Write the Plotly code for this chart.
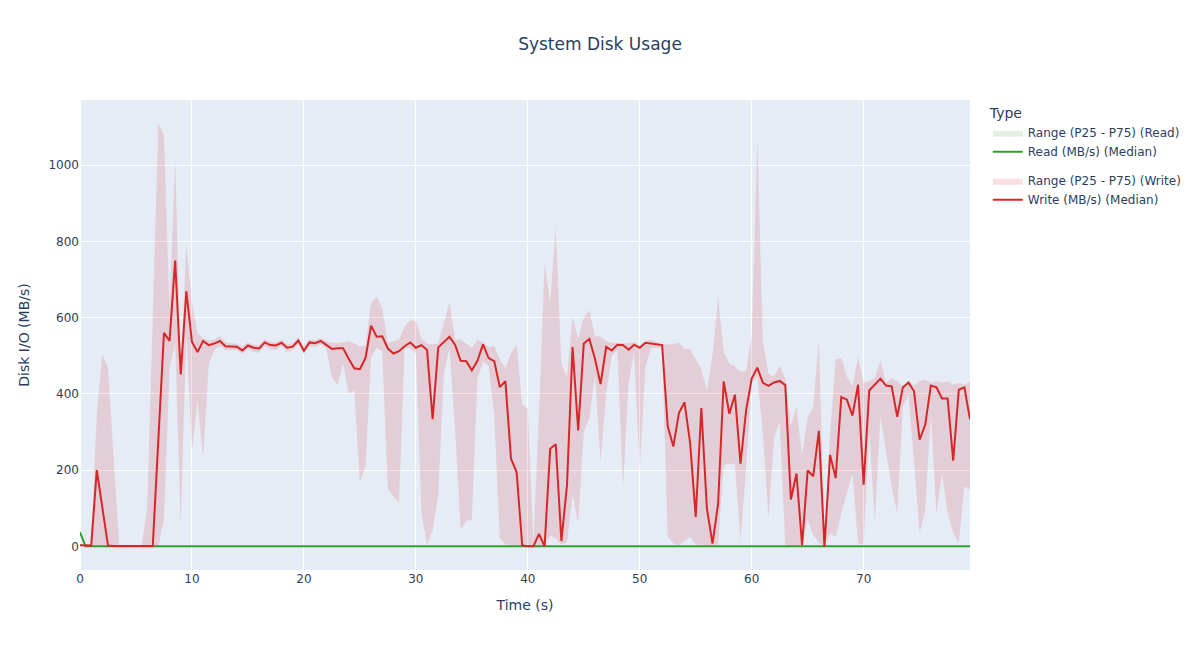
import plotly.graph_objects as go

time_s = [i * 0.5 for i in range(160)]

write_median = [
    3, 2, 2, 200, 100, 2, 1, 1, 1, 1,
    0, 0, 1, 1, 280, 560, 539, 750, 451, 669,
    536, 510, 539, 528, 532, 539, 525, 524, 524, 514,
    527, 521, 519, 535, 528, 527, 534, 521, 524, 540,
    513, 535, 533, 539, 529, 518, 520, 520, 492, 467,
    465, 494, 579, 550, 551, 519, 506, 512, 525, 535,
    521, 528, 515, 334, 522, 536, 550, 529, 487, 486,
    462, 487, 530, 494, 486, 418, 433, 230, 195, 3,
    0, 0, 33, 0, 256, 268, 14, 160, 523, 304,
    532, 544, 492, 426, 523, 514, 529, 528, 516, 529,
    521, 534, 532, 530, 528, 315, 262, 350, 378, 271,
    77, 363, 99, 7, 112, 433, 348, 398, 217, 357,
    440, 469, 429, 421, 430, 434, 423, 123, 191, 3,
    199, 184, 303, 0, 240, 179, 392, 385, 343, 424,
    162, 409, 424, 440, 422, 420, 340, 417, 430, 407,
    280, 319, 422, 417, 388, 388, 225, 411, 417, 333,
]

write_p25 = [
    0, 0, 0, 0, 0, 0, 0, 0, 0, 0,
    0, 0, 0, 0, 0, 70, 467, 532, 55, 560,
    248, 383, 230, 478, 516, 525, 515, 515, 515, 505,
    518, 510, 508, 526, 518, 515, 525, 510, 515, 530,
    505, 525, 524, 530, 519, 444, 423, 479, 401, 409,
    169, 208, 494, 521, 512, 151, 131, 115, 520, 520,
    505, 90, 3, 42, 134, 453, 520, 310, 44, 68,
    68, 440, 484, 474, 345, 22, 5, 3, 3, 2,
    0, 0, 0, 0, 30, 20, 5, 10, 138, 60,
    300, 335, 450, 221, 400, 500, 515, 151, 427, 510,
    200, 471, 520, 522, 520, 25, 8, 3, 15, 25,
    5, 5, 0, 0, 5, 213, 217, 217, 16, 208,
    431, 444, 296, 73, 287, 326, 0, 0, 0, 0,
    70, 30, 10, 0, 35, 24, 87, 140, 192, 9,
    4, 300, 61, 341, 245, 157, 87, 367, 398, 220,
    35, 96, 350, 83, 192, 87, 35, 9, 157, 149,
]

write_p75 = [
    5, 5, 5, 350, 505, 468, 230, 3, 2, 2,
    2, 3, 100, 600, 1110, 1080, 620, 1015, 480, 790,
    640, 560, 545, 540, 542, 551, 535, 533, 532, 524,
    535, 530, 527, 544, 536, 535, 542, 530, 533, 547,
    525, 543, 541, 546, 538, 535, 532, 536, 538, 532,
    525, 525, 639, 654, 625, 534, 538, 542, 577, 593,
    592, 545, 532, 530, 532, 585, 640, 542, 542, 532,
    521, 541, 536, 522, 526, 490, 468, 506, 530, 373,
    361, 10, 350, 742, 640, 838, 479, 444, 602, 545,
    600, 620, 550, 551, 538, 534, 532, 532, 534, 535,
    527, 538, 542, 536, 531, 529, 531, 535, 518, 518,
    490, 464, 410, 500, 654, 510, 479, 472, 458, 460,
    549, 1070, 536, 453, 444, 475, 440, 318, 366, 239,
    339, 366, 541, 24, 300, 490, 494, 446, 420, 497,
    429, 433, 442, 486, 429, 442, 433, 420, 433, 422,
    433, 437, 429, 433, 429, 433, 424, 429, 424, 433,
]

read_median = [
    37, 0, 0, 0, 0, 0, 0, 0, 0, 0,
    0, 0, 0, 0, 0, 0, 0, 0, 0, 0,
    0, 0, 0, 0, 0, 0, 0, 0, 0, 0,
    0, 0, 0, 0, 0, 0, 0, 0, 0, 0,
    0, 0, 0, 0, 0, 0, 0, 0, 0, 0,
    0, 0, 0, 0, 0, 0, 0, 0, 0, 0,
    0, 0, 0, 0, 0, 0, 0, 0, 0, 0,
    0, 0, 0, 0, 0, 0, 0, 0, 0, 0,
    0, 0, 0, 0, 0, 0, 0, 0, 0, 0,
    0, 0, 0, 0, 0, 0, 0, 0, 0, 0,
    0, 0, 0, 0, 0, 0, 0, 0, 0, 0,
    0, 0, 0, 0, 0, 0, 0, 0, 0, 0,
    0, 0, 0, 0, 0, 0, 0, 0, 0, 0,
    0, 0, 0, 0, 0, 0, 0, 0, 0, 0,
    0, 0, 0, 0, 0, 0, 0, 0, 0, 0,
    0, 0, 0, 0, 0, 0, 0, 0, 0, 0,
]

read_p25 = [
    30, 0, 0, 0, 0, 0, 0, 0, 0, 0,
    0, 0, 0, 0, 0, 0, 0, 0, 0, 0,
    0, 0, 0, 0, 0, 0, 0, 0, 0, 0,
    0, 0, 0, 0, 0, 0, 0, 0, 0, 0,
    0, 0, 0, 0, 0, 0, 0, 0, 0, 0,
    0, 0, 0, 0, 0, 0, 0, 0, 0, 0,
    0, 0, 0, 0, 0, 0, 0, 0, 0, 0,
    0, 0, 0, 0, 0, 0, 0, 0, 0, 0,
    0, 0, 0, 0, 0, 0, 0, 0, 0, 0,
    0, 0, 0, 0, 0, 0, 0, 0, 0, 0,
    0, 0, 0, 0, 0, 0, 0, 0, 0, 0,
    0, 0, 0, 0, 0, 0, 0, 0, 0, 0,
    0, 0, 0, 0, 0, 0, 0, 0, 0, 0,
    0, 0, 0, 0, 0, 0, 0, 0, 0, 0,
    0, 0, 0, 0, 0, 0, 0, 0, 0, 0,
    0, 0, 0, 0, 0, 0, 0, 0, 0, 0,
]

read_p75 = [
    45, 1, 1, 1, 1, 1, 1, 1, 1, 1,
    1, 1, 1, 1, 1, 1, 1, 1, 1, 1,
    1, 1, 1, 1, 1, 1, 1, 1, 1, 1,
    1, 1, 1, 1, 1, 1, 1, 1, 1, 1,
    1, 1, 1, 1, 1, 1, 1, 1, 1, 1,
    1, 1, 1, 1, 1, 1, 1, 1, 1, 1,
    1, 1, 1, 1, 1, 1, 1, 1, 1, 1,
    1, 1, 1, 1, 1, 1, 1, 1, 1, 1,
    1, 1, 1, 1, 1, 1, 1, 1, 1, 1,
    1, 1, 1, 1, 1, 1, 1, 1, 1, 1,
    1, 1, 1, 1, 1, 1, 1, 1, 1, 1,
    1, 1, 1, 1, 1, 1, 1, 1, 1, 1,
    1, 1, 1, 1, 1, 1, 1, 1, 1, 1,
    1, 1, 1, 1, 1, 1, 1, 1, 1, 1,
    1, 1, 1, 1, 1, 1, 1, 1, 1, 1,
    1, 1, 1, 1, 1, 1, 1, 1, 1, 1,
]

series = [
    ("Read", read_median, read_p25, read_p75, "#2ca02c", "rgba(44,160,44,0.15)"),
    ("Write", write_median, write_p25, write_p75, "#d62728", "rgba(214,39,40,0.15)"),
]

fig = go.Figure()
for name, med, lo, hi, color, fillcolor in series:
    fig.add_trace(go.Scatter(
        x=time_s + time_s[::-1],
        y=hi + lo[::-1],
        fill="toself",
        fillcolor=fillcolor,
        line=dict(width=0, color=fillcolor),
        mode="lines",
        name=f"Range (P25 - P75) ({name})",
        legendgroup=name,
        hoverinfo="skip",
    ))
    fig.add_trace(go.Scatter(
        x=time_s,
        y=med,
        mode="lines",
        line=dict(color=color, width=2),
        name=f"{name} (MB/s) (Median)",
        legendgroup=name,
    ))

fig.update_layout(
    template="plotly",
    width=1200,
    height=650,
    font=dict(family="DejaVu Sans, Verdana, sans-serif"),
    title=dict(text="System Disk Usage", x=0.5, xanchor="center"),
    margin=dict(l=80, r=230, t=100, b=80),
    legend=dict(title=dict(text="Type"), tracegroupgap=10),
    xaxis=dict(title=dict(text="Time (s)"), range=[0, 79.5]),
    yaxis=dict(title=dict(text="Disk I/O (MB/s)"), range=[-62, 1171]),
)

fig.write_html(
    "out.html",
    config={"displayModeBar": False},
    post_script="document.body.style.margin='0';",
)
